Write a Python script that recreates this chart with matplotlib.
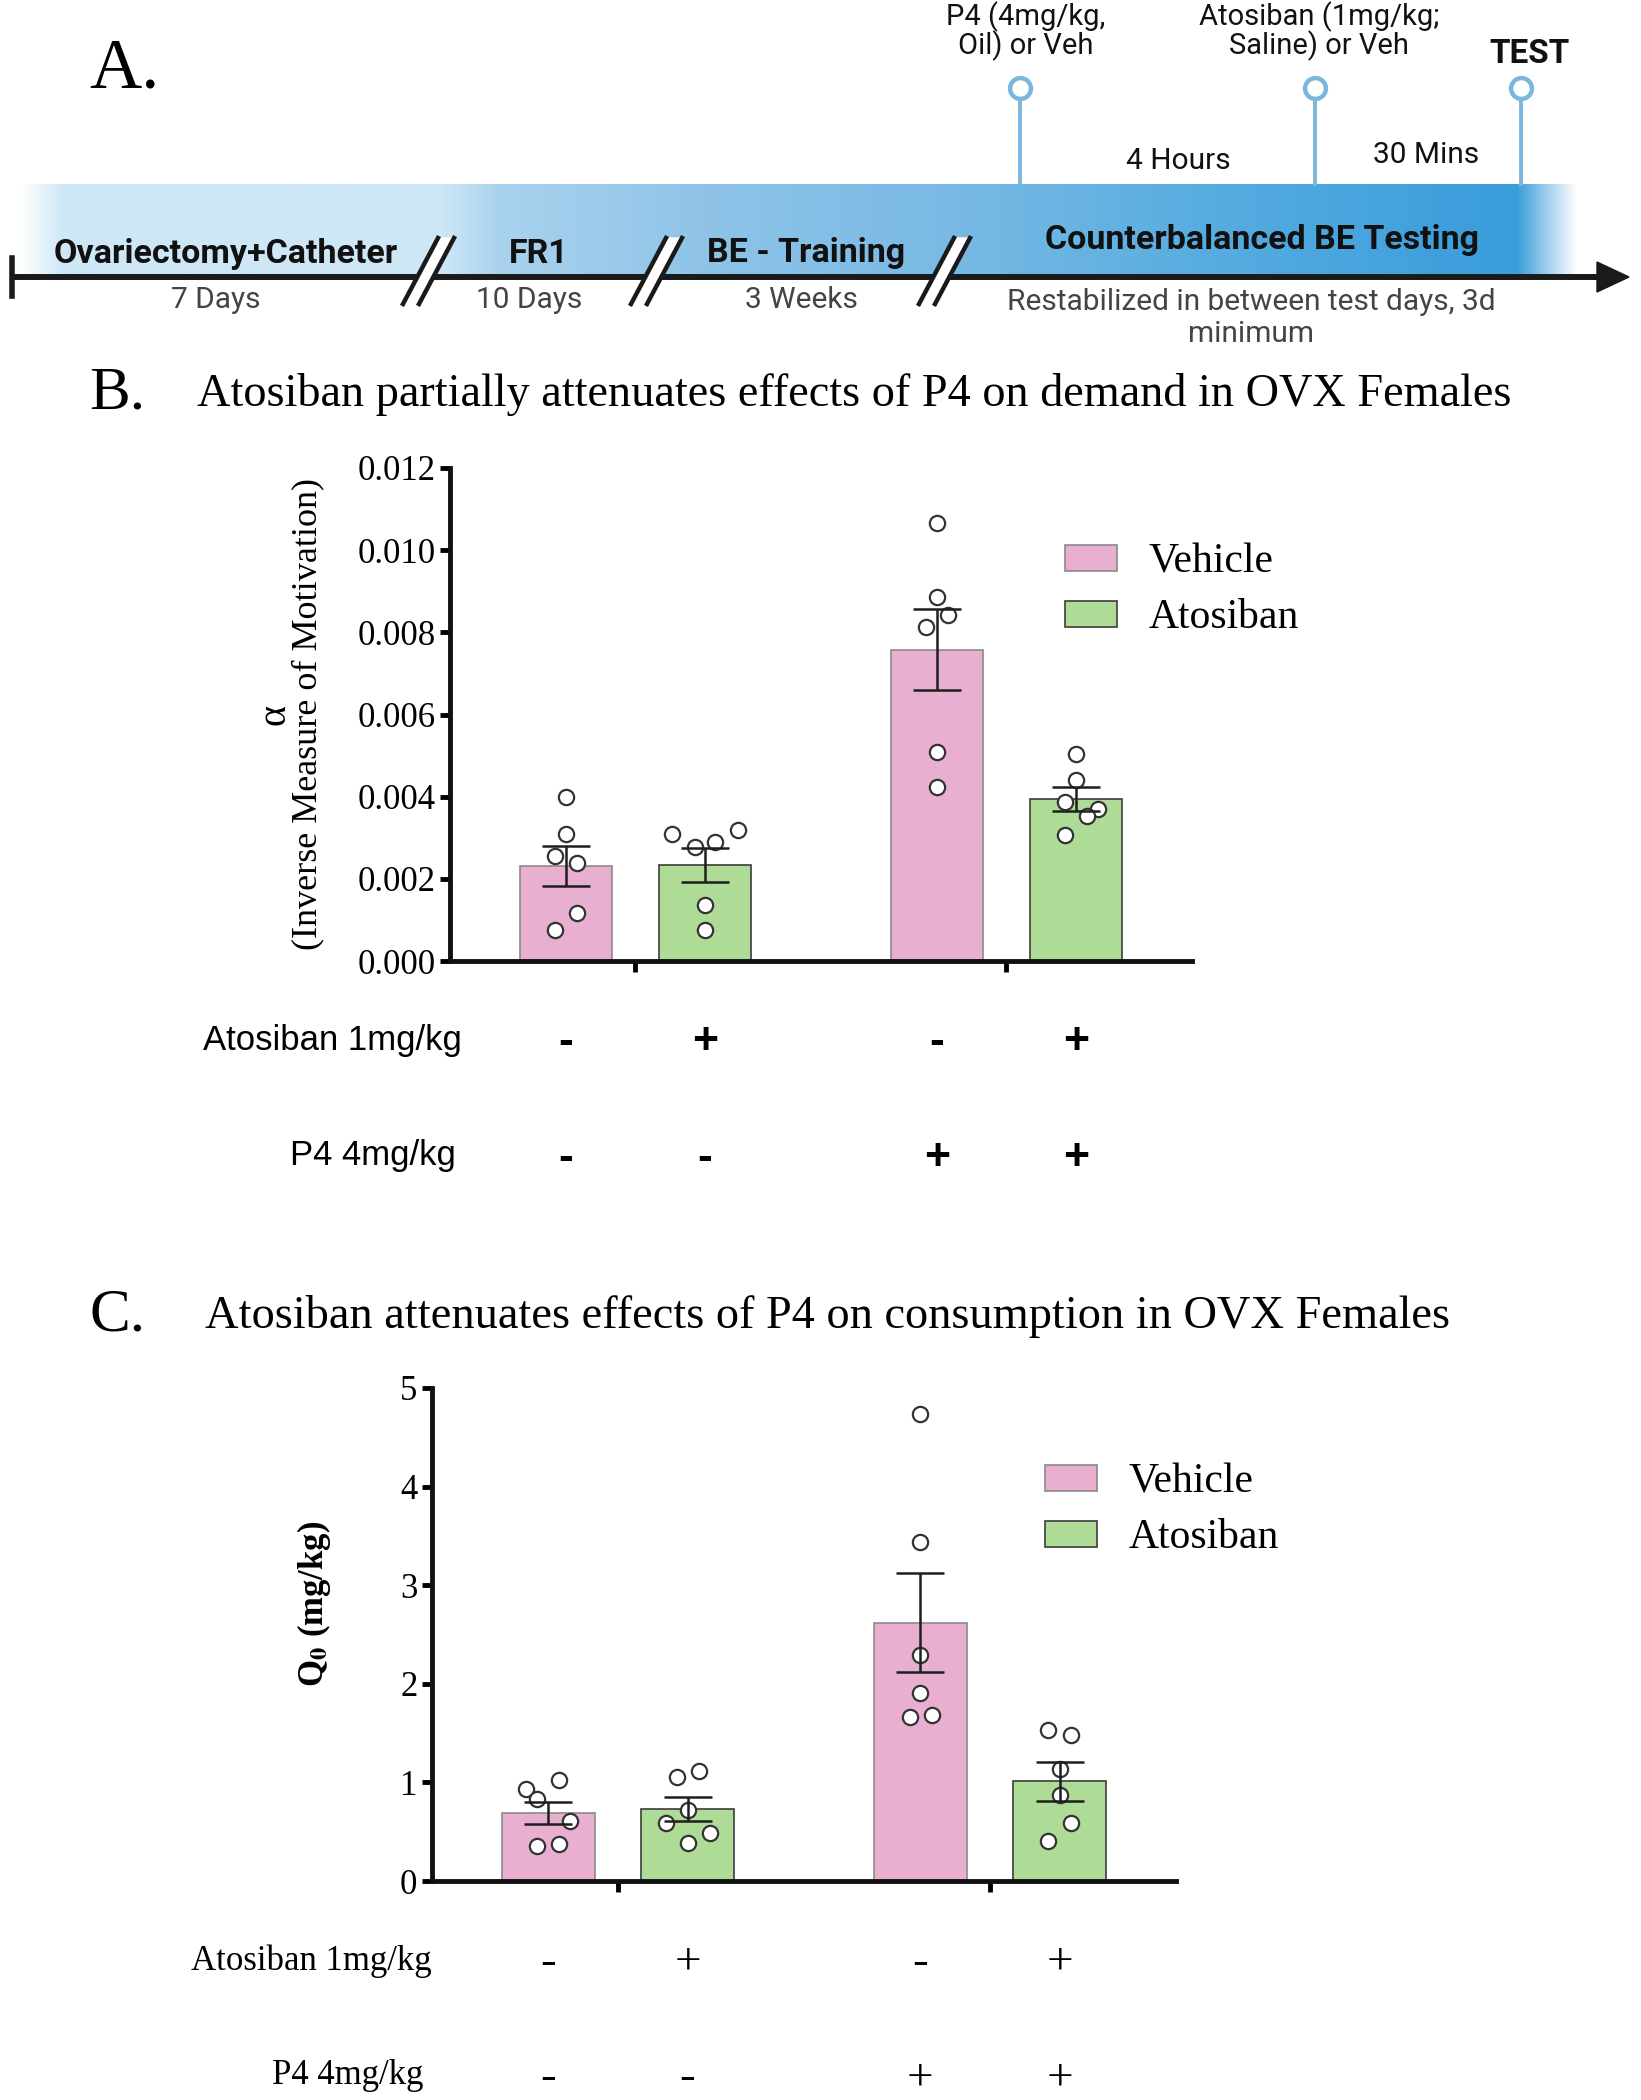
import matplotlib as mpl
import matplotlib.pyplot as plt
from matplotlib.patches import Patch, Polygon
from matplotlib.transforms import blended_transform_factory
import numpy as np

# ---- panel B: alpha (demand) ----
B_VEH_MEAN = [0.00231, 0.00758]
B_VEH_SEM = [0.00049, 0.00099]
B_ATO_MEAN = [0.00233, 0.00394]
B_ATO_SEM = [0.00041, 0.00030]
B_VEH_POINTS = [[0.00398, 0.00310, 0.00256, 0.00239, 0.00116, 0.00076],
                [0.01065, 0.00885, 0.00843, 0.00814, 0.00508, 0.00424]]
B_ATO_POINTS = [[0.00310, 0.00277, 0.00289, 0.00319, 0.00136, 0.00076],
                [0.00503, 0.00440, 0.00386, 0.00369, 0.00352, 0.00306]]
B_YTICKS = [0.000, 0.002, 0.004, 0.006, 0.008, 0.010, 0.012]

# ---- panel C: Q0 (consumption) ----
C_VEH_MEAN = [0.69, 2.62]
C_VEH_SEM = [0.11, 0.505]
C_ATO_MEAN = [0.73, 1.01]
C_ATO_SEM = [0.125, 0.195]
C_VEH_POINTS = [[1.02, 0.93, 0.83, 0.61, 0.38, 0.36],
                [4.74, 3.44, 2.29, 1.91, 1.66, 1.68]]
C_ATO_POINTS = [[1.12, 1.05, 0.72, 0.59, 0.49, 0.39],
                [1.53, 1.48, 1.14, 0.87, 0.59, 0.41]]
C_YTICKS = [0, 1, 2, 3, 4, 5]

GROUP_LABELS = ["Vehicle", "Atosiban"]
ATOSIBAN_SIGNS = ["-", "+", "-", "+"]
P4_SIGNS = ["-", "-", "+", "+"]

# timeline text
STAGES = ["Ovariectomy+Catheter", "FR1", "BE - Training", "Counterbalanced BE Testing"]
DURATIONS = ["7 Days", "10 Days", "3 Weeks", "Restabilized in between test days, 3d\nminimum"]
EVENTS = ["P4 (4mg/kg,\nOil) or Veh", "Atosiban (1mg/kg;\nSaline) or Veh", "TEST"]
INTERVALS = ["4 Hours", "30 Mins"]

# scatter layout (horizontal spread of dots, in x units)
B_VEH_JIT = [[0, 0, -0.03, 0.03, 0.03, -0.03], [0, 0, 0.03, -0.03, 0, 0]]
B_ATO_JIT = [[-0.089, -0.026, 0.026, 0.089, 0, 0], [0, 0, -0.03, 0.059, 0.03, -0.03]]
C_VEH_JIT = [[0.028, -0.06, -0.031, 0.057, 0.028, -0.031], [0, 0, 0, 0, -0.029, 0.031]]
C_ATO_JIT = [[0.03, -0.028, 0, -0.059, 0.059, 0], [-0.031, 0.031, 0, 0, 0.031, -0.031]]

PINK = "#e8afd0"
GREEN = "#aedb95"
PIN_BLUE = "#7bb7dd"
SERIF = ["Liberation Serif", "DejaVu Serif"]
SANS = ["Liberation Sans", "DejaVu Sans"]
ROBOTO = ["Roboto", "DejaVu Sans"]

W, H = 1641, 2100

mpl.rcParams.update({
    "font.family": SERIF,
    "mathtext.fontset": "stix",
    "axes.linewidth": 3.5,
    "xtick.major.width": 3.5,
    "ytick.major.width": 3.5,
    "xtick.major.size": 8,
    "ytick.major.size": 7,
    "xtick.direction": "out",
    "ytick.direction": "out",
})


def fx(px):
    return px / W


def fy(py):
    return 1 - py / H


def draw_timeline(ax):
    ax.set_xlim(0, W)
    ax.set_ylim(H, 0)
    ax.axis("off")

    # gradient band
    stops_x = [21, 63, 440, 500, 700, 960, 1200, 1517, 1577]
    stops_c = ["#cde7f7", "#cde7f7", "#cfe7f6", "#a9d2ee", "#8fc4e8",
               "#78b9e4", "#58ade0", "#399cdb", "#399cdb"]
    stops_a = [0, 1, 1, 1, 1, 1, 1, 1, 0]
    xs = np.arange(21, 1578)
    rgb = np.array([mpl.colors.to_rgb(c) for c in stops_c])
    img = np.zeros((1, len(xs), 4))
    for k in range(3):
        img[0, :, k] = np.interp(xs, stops_x, rgb[:, k])
    img[0, :, 3] = np.interp(xs, stops_x, stops_a)
    ax.imshow(img, extent=(21, 1577, 277, 184), aspect="auto", zorder=1,
              interpolation="bilinear")

    # main arrow
    ax.plot([12, 1602], [277, 277], color="#1a1a1a", lw=4.3,
            solid_capstyle="butt", zorder=3)
    ax.add_patch(Polygon([(1597, 262), (1629, 277), (1597, 292)],
                         closed=True, color="#1a1a1a", zorder=3))
    ax.plot([12, 12], [258, 296], color="#1a1a1a", lw=4, zorder=3)

    # axis breaks
    for cx in [428, 656, 944]:
        ax.add_patch(Polygon([(cx - 25, 304), (cx - 9, 304), (cx + 26, 238), (cx + 10, 238)],
                             closed=True, color="white", zorder=4))
        ax.plot([cx - 25, cx + 10], [304, 238], color="#1a1a1a", lw=3.2, zorder=5)
        ax.plot([cx - 9, cx + 26], [304, 238], color="#1a1a1a", lw=3.2, zorder=5)

    # stage labels
    stage_pos = [(226, 263), (539, 263), (806, 262), (1262, 249)]
    for text, (x, y) in zip(STAGES, stage_pos):
        ax.text(x, y, text, ha="center", va="baseline", fontsize=24.5,
                fontweight="bold", family=ROBOTO, color="#111111", zorder=6)
    dur_pos = [(216, 300), (529, 300), (801, 300), (1251, 318)]
    for text, (x, y) in zip(DURATIONS, dur_pos):
        ax.text(x, y, text, ha="center", va="center", fontsize=21.5,
                family=ROBOTO, color="#444444", linespacing=1.15, zorder=6)

    # event pins
    pin_x = [1020, 1315, 1521]
    for x in pin_x:
        ax.plot([x, x], [99, 184], color=PIN_BLUE, lw=2.8, zorder=2)
        ax.plot([x], [88], marker="o", markersize=15, mfc="white",
                mec=PIN_BLUE, mew=3.2, zorder=3)
    event_pos = [(1026, 31), (1319, 31), (1529, 54)]
    for i, (text, (x, y)) in enumerate(zip(EVENTS, event_pos)):
        ax.text(x, y, text, ha="center", va="center",
                fontsize=24 if i == 2 else 21, family=ROBOTO, color="#111111",
                linespacing=0.95, fontweight="bold" if i == 2 else "normal")
    for text, (x, y) in zip(INTERVALS, [(1178, 161), (1426, 155)]):
        ax.text(x, y, text, ha="center", va="center", fontsize=21.5,
                family=ROBOTO, color="#111111")


def bar_panel(ax, veh_mean, veh_sem, ato_mean, ato_sem, veh_pts, ato_pts,
              veh_jit, ato_jit, yticks, fmt, sign_family, sign_kw, row_family,
              row_x):
    offset, width = 0.187, 0.25
    groups = np.arange(len(veh_mean))
    series = [
        (groups - offset, veh_mean, veh_sem, veh_pts, veh_jit, PINK, "#8a8a8a"),
        (groups + offset, ato_mean, ato_sem, ato_pts, ato_jit, GREEN, "#3c3c3c"),
    ]
    for xs, mean, sem, pts, jit, color, edge in series:
        ax.bar(xs, mean, width=width, color=color, edgecolor=edge, linewidth=1.2, zorder=1)
        for x, vals, offs in zip(xs, pts, jit):
            ax.plot(x + np.array(offs), vals, linestyle="none", marker="o",
                    markersize=11, mfc="white", mec="#333333", mew=1.6, zorder=3)
        ax.errorbar(xs, mean, yerr=sem, fmt="none", ecolor="#1e1e1e",
                    elinewidth=1.8, capsize=17, capthick=1.8, zorder=4)

    ax.set_xlim(-0.5, 1.5)
    ax.set_ylim(yticks[0], yticks[-1])
    ax.set_yticks(yticks)
    ax.set_yticklabels([fmt(v) for v in yticks], fontsize=25)
    ax.set_xticks(groups)
    ax.set_xticklabels([])
    ax.spines["top"].set_visible(False)
    ax.spines["right"].set_visible(False)
    for side in ("left", "bottom"):
        ax.spines[side].set_color("#111111")

    handles = [Patch(facecolor=PINK, edgecolor="#8a8a8a", linewidth=1.2),
               Patch(facecolor=GREEN, edgecolor="#3c3c3c", linewidth=1.2)]
    leg = ax.legend(handles, GROUP_LABELS, loc="upper left", frameon=False,
                    fontsize=30, handlelength=1.25, handleheight=0.6,
                    handletextpad=0.75, labelspacing=0.42, borderpad=0,
                    borderaxespad=0)

    bar_x = [groups[0] - offset, groups[0] + offset, groups[1] - offset, groups[1] + offset]
    trans = blended_transform_factory(ax.transData, ax.transAxes)
    ax.text(row_x[0], -0.162, "Atosiban 1mg/kg", transform=ax.transAxes, ha="right",
            va="center", fontsize=25, family=row_family)
    ax.text(row_x[1], -0.395, "P4 4mg/kg", transform=ax.transAxes, ha="right",
            va="center", fontsize=25, family=row_family)
    for x, a, p in zip(bar_x, ATOSIBAN_SIGNS, P4_SIGNS):
        ax.text(x, -0.165, a, transform=trans, ha="center", va="center",
                family=sign_family, **sign_kw)
        ax.text(x, -0.40, p, transform=trans, ha="center", va="center",
                family=sign_family, **sign_kw)
    return leg


def main():
    fig = plt.figure(figsize=(W / 100, H / 100), dpi=100)

    ax0 = fig.add_axes([0, 0, 1, 1])
    draw_timeline(ax0)

    fig.text(fx(89), fy(70), "A.", fontsize=52, ha="left", va="center")
    fig.text(fx(89), fy(394), "B.", fontsize=44, ha="left", va="center")
    fig.text(fx(197), fy(395),
             "Atosiban partially attenuates effects of P4 on demand in OVX Females",
             fontsize=33.3, ha="left", va="center")
    fig.text(fx(89), fy(1316), "C.", fontsize=44, ha="left", va="center")
    fig.text(fx(205), fy(1317),
             "Atosiban attenuates effects of P4 on consumption in OVX Females",
             fontsize=33.4, ha="left", va="center")

    # panel B
    axb = fig.add_axes([fx(450), fy(961), (1192 - 450) / W, (961 - 468) / H])
    leg = bar_panel(axb, B_VEH_MEAN, B_VEH_SEM, B_ATO_MEAN, B_ATO_SEM,
                    B_VEH_POINTS, B_ATO_POINTS, B_VEH_JIT, B_ATO_JIT,
                    B_YTICKS, lambda v: f"{v:.3f}", SANS,
                    dict(fontsize=32, fontweight="bold"), SANS, (0.016, 0.008))
    leg.set_bbox_to_anchor((0.829, 0.848), transform=axb.transAxes)
    axb.text(-0.236, 0.5, "α", transform=axb.transAxes, rotation=90,
             ha="center", va="center", fontsize=29)
    axb.text(-0.191, 0.5, "(Inverse Measure of Motivation)", transform=axb.transAxes,
             rotation=90, ha="center", va="center", fontsize=26)

    # panel C
    axc = fig.add_axes([fx(432), fy(1881), (1176 - 432) / W, (1881 - 1388) / H])
    leg = bar_panel(axc, C_VEH_MEAN, C_VEH_SEM, C_ATO_MEAN, C_ATO_SEM,
                    C_VEH_POINTS, C_ATO_POINTS, C_VEH_JIT, C_ATO_JIT,
                    C_YTICKS, lambda v: f"{v:d}", SERIF,
                    dict(fontsize=34), SERIF, (-0.001, -0.011))
    leg.set_bbox_to_anchor((0.824, 0.848), transform=axc.transAxes)
    axc.text(-0.159, 0.562, r"Q$_{\mathbf{0}}$ (mg/kg)", transform=axc.transAxes,
             rotation=90, ha="center", va="center", fontsize=25, fontweight="bold")

    fig.savefig("out.png", dpi=100)
    plt.close(fig)


if __name__ == "__main__":
    main()
